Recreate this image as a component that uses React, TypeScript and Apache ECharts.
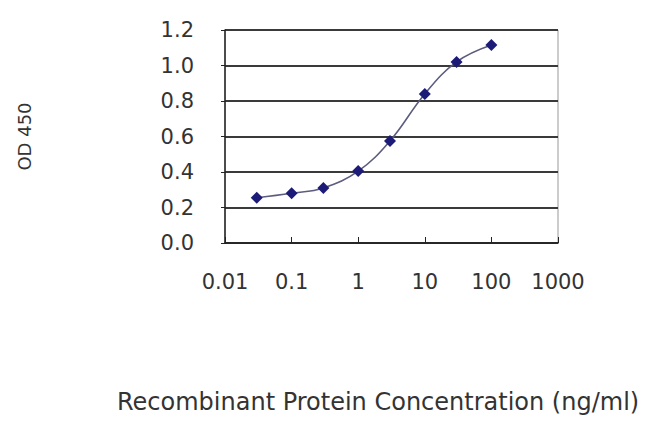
import React, { useEffect, useRef } from "react";
import * as echarts from "echarts";

const concentrations = [0.03, 0.1, 0.3, 1, 3, 10, 30, 100];
const od450 = [0.255, 0.28, 0.31, 0.405, 0.575, 0.84, 1.02, 1.115];
const yTicks = [0, 0.2, 0.4, 0.6, 0.8, 1.0, 1.2];
const xTickLabels = ["0.01", "0.1", "1", "10", "100", "1000"];
const xTitle = "Recombinant Protein Concentration (ng/ml)";
const yTitle = "OD 450";

export default function App() {
  const ref = useRef<HTMLDivElement>(null);
  useEffect(() => {
    if (!ref.current) return;
    const chart = echarts.init(ref.current, undefined, { renderer: "svg" });
    const font = "DejaVu Sans, Liberation Sans, Arial, sans-serif";
    chart.setOption({
      animation: false,
      backgroundColor: "#ffffff",
      grid: {
        left: 225,
        right: 92,
        top: 30,
        bottom: 191,
        containLabel: false,
        outerBoundsMode: "none",
        show: true,
        borderColor: "#999",
        borderWidth: 1,
      },
      graphic: [
        {
          type: "text",
          left: 377 - 260,
          top: 390,
          style: { text: xTitle, font: `24px ${font}`, fill: "#333" },
        },
      ],
      xAxis: {
        type: "log",
        logBase: 10,
        min: 0.01,
        max: 1000,
        axisLine: { show: true, lineStyle: { color: "#222", width: 1.5 } },
        axisTick: { show: true, inside: true, length: 6, lineStyle: { color: "#222" } },
        splitLine: { show: false },
        axisLabel: {
          fontFamily: font,
          fontSize: 21,
          color: "#333",
          margin: 28,
          formatter: (v: number) => {
            const i = Math.round(Math.log10(v)) + 2;
            return xTickLabels[i] ?? String(v);
          },
        },
      },
      yAxis: {
        type: "value",
        min: yTicks[0],
        max: yTicks[yTicks.length - 1],
        interval: 0.2,
        name: yTitle,
        nameLocation: "middle",
        nameRotate: 90,
        nameGap: 192,
        nameTextStyle: { fontFamily: font, fontSize: 18, color: "#333" },
        axisLine: { show: true, lineStyle: { color: "#222", width: 1.5 } },
        axisTick: { show: true, length: 4, lineStyle: { color: "#222" } },
        splitLine: { show: true, lineStyle: { color: "#3a3a3a", width: 1.8 } },
        axisLabel: {
          fontFamily: font,
          fontSize: 21,
          color: "#333",
          margin: 31,
          formatter: (v: number) => v.toFixed(1),
        },
      },
      series: [
        {
          type: "line",
          data: concentrations.map((c, i) => [c, od450[i]]),
          smooth: 0.4,
          symbol: "diamond",
          symbolSize: 12,
          lineStyle: { color: "#5c5c80", width: 1.6 },
          itemStyle: { color: "#1c1c78" },
        },
      ],
    });
    return () => chart.dispose();
  }, []);
  return <div ref={ref} style={{ width: 650, height: 434, position: "absolute", left: 0, top: 0 }} />;
}
